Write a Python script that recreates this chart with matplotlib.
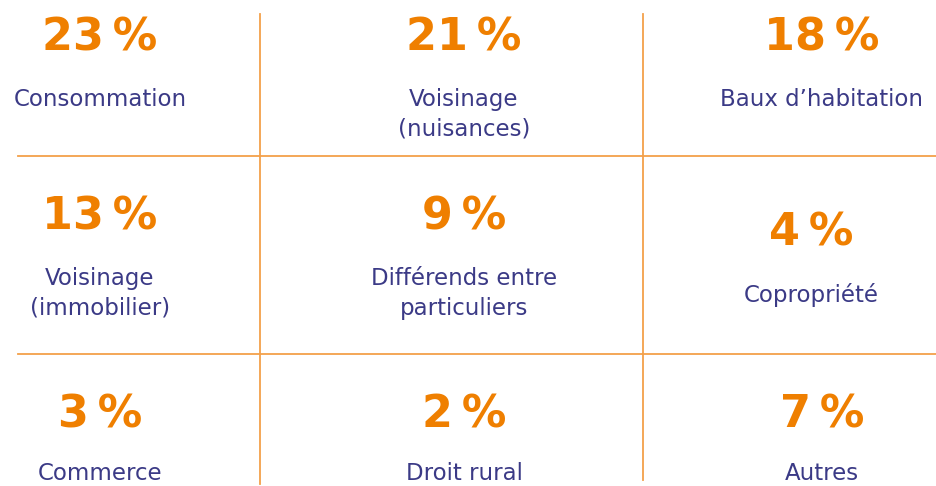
import matplotlib.pyplot as plt

# chart data
values = [23, 21, 18, 13, 9, 4, 3, 2, 7]
labels = ['Consommation', 'Voisinage\n(nuisances)', 'Baux d\u2019habitation',
          'Voisinage\n(immobilier)', 'Différends entre\nparticuliers', 'Copropriété',
          'Commerce', 'Droit rural', 'Autres']

# layout (pixels, y downwards)
col_x = [100, 464, 822]
row_y = [38, 217, 415]
label_gap = [50, 50, 47]
nudge = {5: (-11, 16)}   # single-line cell centred in a two-line row

orange = '#ef7f00'
navy = '#3b3a86'
line_col = '#f3a04a'

fig = plt.figure(figsize=(9.36, 4.86), dpi=100)
ax = fig.add_axes([0, 0, 1, 1])
ax.set_xlim(0, 936)
ax.set_ylim(486, 0)
ax.axis('off')
fig.patch.set_facecolor('white')

# grid lines
ax.plot([260, 260], [14, 484], color=line_col, lw=1.3)
ax.plot([643, 643], [14, 480], color=line_col, lw=1.3)
ax.plot([18, 936], [156, 156], color=line_col, lw=1.3)
ax.plot([18, 936], [354, 354], color=line_col, lw=1.3)

for i, (v, lab) in enumerate(zip(values, labels)):
    x = col_x[i % 3]
    y = row_y[i // 3]
    dx, dy = nudge.get(i, (0, 0))
    x += dx
    y += dy
    ax.text(x, y, f'{v}\u2009%', fontsize=32, fontweight='bold', color=orange,
            ha='center', va='center')
    ax.text(x, y + label_gap[i // 3], lab, fontsize=16.5, color=navy,
            ha='center', va='top', linespacing=1.38)

fig.savefig('out.png', dpi=100)
